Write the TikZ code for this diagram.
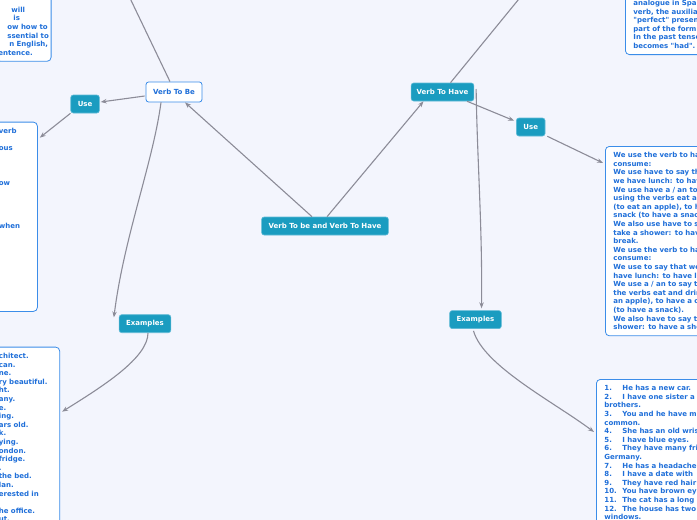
\documentclass[tikz,border=0pt]{standalone}
\usepackage{fontspec}
\setmainfont{DejaVu Sans}
\usetikzlibrary{arrows.meta, positioning}
\usepackage{xcolor}
\definecolor{mapbg}{HTML}{F3F5FD}
\definecolor{topicteal}{HTML}{1A9CC0}
\definecolor{topicline}{HTML}{5FBAD6}
\definecolor{noteblue}{HTML}{1F6FD9}
\definecolor{noteline}{HTML}{3B8DE9}
\definecolor{linkgray}{HTML}{8C8C98}
\newcommand{\exnum}[1]{\makebox[18pt][l]{#1}}
\newcommand{\straightquote}{\XeTeXglyph\XeTeXcharglyph"0022\relax}

\begin{document}
\begin{tikzpicture}[
    x=1pt, y=-1pt,
    font=\fontsize{7}{8.6}\selectfont\bfseries,
    >={Stealth[length=6pt,width=4.5pt]},
    % topic styles
    topic/.style={
        rectangle,
        draw=topicline,
        fill=topicteal,
        rounded corners=2.5pt,
        minimum height=18pt,
        inner xsep=7pt,
        inner ysep=0pt,
        line width=0.6pt,
        text=white
    },
    subtopic/.style={
        topic,
        draw=noteline,
        fill=white,
        minimum height=20pt,
        line width=0.8pt,
        text=noteblue
    },
    notebox/.style={
        rectangle,
        draw=noteline,
        fill=white,
        rounded corners=4pt,
        align=left,
        inner xsep=8pt,
        inner ysep=6pt,
        line width=0.8pt,
        text=noteblue
    },
    link/.style={draw=linkgray, line width=1.1pt},
    flow/.style={link, ->}
]
    \useasboundingbox (0,0) rectangle (697,520);
    \fill[mapbg] (0,0) rectangle (697,520);

    % ==========================================
    % 1. TOPICS
    % ==========================================
    \node[topic] (root) at (325,226) {Verb To be and Verb To Have};
    \node[subtopic] (tobe) at (174,92) {Verb To Be};
    \node[topic, inner xsep=5.5pt] (tohave) at (442.5,92) {Verb To Have};

    \node[topic, left=46pt of tobe, yshift=-12pt] (tobeUse) {Use};
    \node[topic, below=212pt of tobe, xshift=-29pt] (tobeEx) {Examples};
    \node[topic, right=42pt of tohave, yshift=-35pt] (haveUse) {Use};
    \node[topic, below=209pt of tohave, xshift=33pt] (haveEx) {Examples};

    % ==========================================
    % 2. NOTES (Verb To Be, left side)
    % ==========================================
    \node[notebox, inner xsep=2pt, text width=50.7pt, anchor=south west] (tobeNote) at (-4,61.7) {
        \mbox{}\\\mbox{}\\
        \hspace*{13pt}will\\
        \hspace*{15pt}is\\
        \hspace*{9pt}ow how to\\
        \hspace*{9pt}ssential to\\
        \hspace*{11pt}n English,\\
        entence.};

    \node[notebox, text width=30.5pt, anchor=north west] (tobeUseNote) at (-9.5,121.7) {
        verb\\\mbox{}\\ous\\\mbox{}\\\mbox{}\\\mbox{}\\ow\\\mbox{}\\\mbox{}\\\mbox{}\\\mbox{}\\when\\
        \mbox{}\\\mbox{}\\\mbox{}\\\mbox{}\\\mbox{}\\\mbox{}\\\mbox{}\\\mbox{}\\\mbox{}};

    \node[notebox, text width=52.8pt, anchor=north west] (tobeExNote) at (-9.5,346.7) {
        chitect.\\can.\\ne.\\ry beautiful.\\ht.\\any.\\e.\\ing.\\ars old.\\k.\\
        ying.\\ondon.\\fridge.\\.\\the bed.\\lan.\\erested in\\\mbox{}\\he office.\\ut.\\
        \mbox{}\\\mbox{}};

    % ==========================================
    % 3. NOTES (Verb To Have, right side)
    % ==========================================
    \node[notebox, text width=120pt, anchor=south west] (haveNote) at (625,55) {
        \mbox{}\\
        analogue in Spa\\
        verb, the auxilia\\
        \straightquote perfect\straightquote{} presen\\
        part of the form\\
        In the past tense\\
        becomes \straightquote had\straightquote.};

    \node[notebox, text width=160pt, anchor=north west] (haveUseNote) at (605,146) {
        We use the verb to ha\\
        consume:\\
        We use have to say th\\
        we have lunch: to hav\\
        We use have a / an to\\
        using the verbs eat an\\
        (to eat an apple), to h\\
        snack (to have a snac\\
        We also use have to s\\
        take a shower: to hav\\
        break.\\
        We use the verb to ha\\
        consume:\\
        We use to say that we\\
        have lunch: to have lu\\
        We use a / an to say t\\
        the verbs eat and drin\\
        an apple), to have a c\\
        (to have a snack).\\
        We also have to say t\\
        shower: to have a sho};

    \node[notebox, text width=160pt, anchor=north west] (haveExNote) at (596,379) {
        \exnum{1.}He has a new car.\\
        \exnum{2.}I have one sister a\\
        brothers.\\
        \exnum{3.}You and he have m\\
        common.\\
        \exnum{4.}She has an old wris\\
        \exnum{5.}I have blue eyes.\\
        \exnum{6.}They have many fri\\
        Germany.\\
        \exnum{7.}He has a headache\\
        \exnum{8.}I have a date with\\
        \exnum{9.}They have red hair\\
        \exnum{10.}You have brown ey\\
        \exnum{11.}The cat has a long\\
        \exnum{12.}The house has two\\
        windows.\\
        \mbox{}};

    % ==========================================
    % 4. CONNECTORS
    % ==========================================
    % to the topics above the page
    \coordinate (tobeUp) at (128,-6);
    \coordinate (haveUp) at (523,-6);
    \draw[link] ([shift={(-4,0)}]tobe.north) -- (tobeUp);
    \draw[link] ([shift={(8,0)}]tohave.north) -- (haveUp);

    % root -> main topics
    \draw[flow] ([shift={(-13,0)}]root.north) -- ([shift={(11,0)}]tobe.south);
    \draw[flow] ([shift={(2,0)}]root.north) -- ([shift={(-19,0)}]tohave.south);

    % Verb To Be branch
    \draw[flow] ([shift={(-1,4)}]tobe.west) -- ([shift={(1,-2)}]tobeUse.east);
    \draw[flow] (tobeUse.south west) -- ([shift={(2,16)}]tobeUseNote.north east);
    \draw[flow] ([shift={(-13,0)}]tobe.south) .. controls +(-8,60) and +(10,-80) .. ([shift={(-5,3)}]tobeEx.north west);
    \draw[flow] ([shift={(3,0)}]tobeEx.south) .. controls +(0,25) and +(40,-25) .. ([shift={(2,65)}]tobeExNote.north east);

    % Verb To Have branch
    \draw[flow] ([shift={(-7,0)}]tohave.south east) -- ([shift={(-2,3)}]haveUse.north west);
    \draw[flow] ([shift={(2,0)}]haveUse.south east) -- ([shift={(-2,17)}]haveUseNote.north west);
    \draw[flow] ([shift={(2,-3)}]tohave.east) .. controls +(1,70) and +(1,-80) .. ([shift={(6,-2)}]haveEx.north);
    \draw[flow] ([shift={(-2,2)}]haveEx.south) .. controls +(10,35) and +(-40,-30) .. ([shift={(-2,53)}]haveExNote.north west);

\end{tikzpicture}
\end{document}
